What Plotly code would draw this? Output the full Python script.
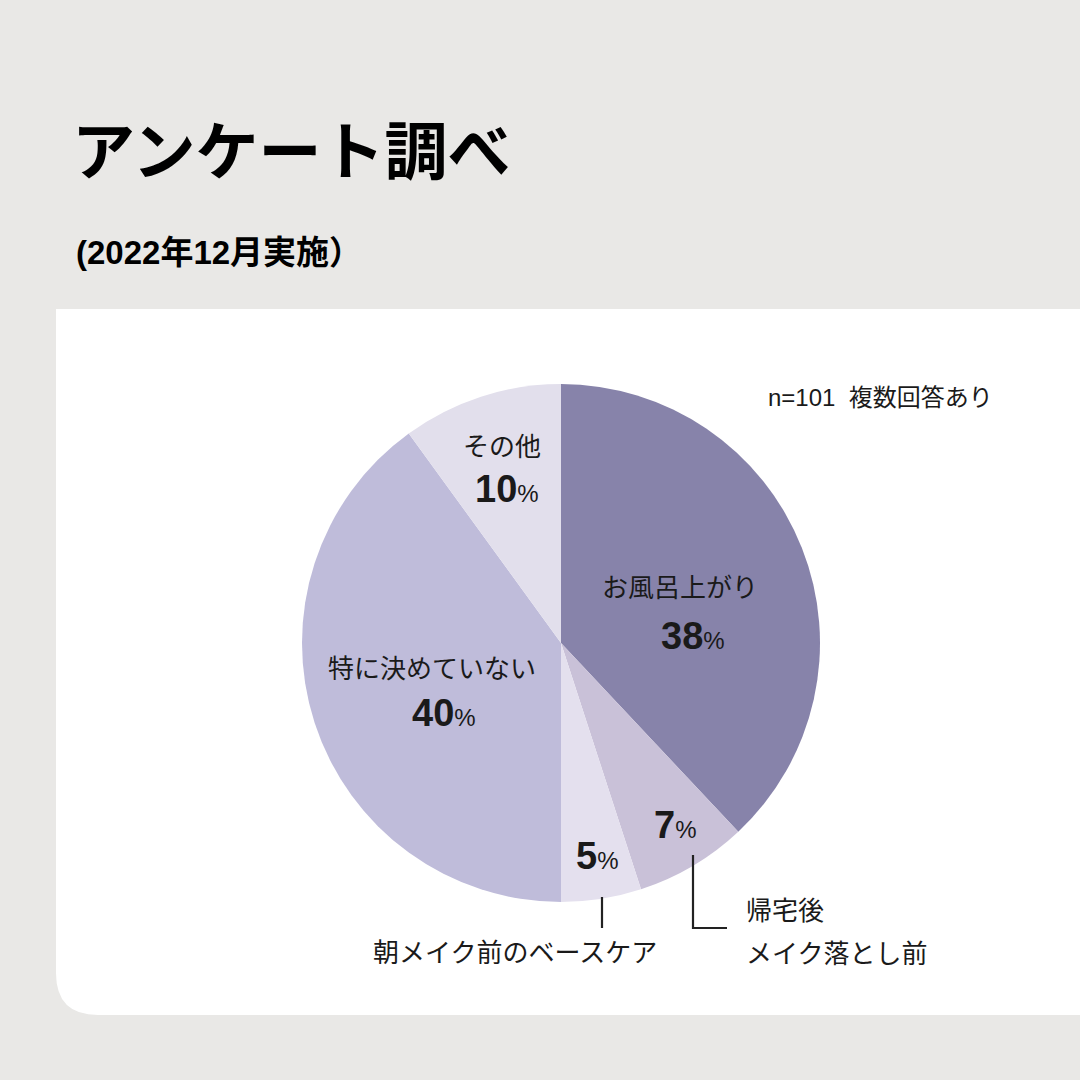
import plotly.graph_objects as go

# ---- data ----
categories = ["お風呂上がり", "帰宅後メイク落とし前", "朝メイク前のベースケア", "特に決めていない", "その他"]
values = [38, 7, 5, 40, 10]
colors = ["#8783aa", "#c9c1d8", "#e4e0ee", "#bfbcda", "#e2dfec"]
title_text = "アンケート調べ"
subtitle_text = "(2022年12月実施）"
note_text = "n=101  複数回答あり"

W = H = 1080
def px(x):
    return x / W
def py(y):
    return 1 - y / H

JP = "Noto Sans CJK JP"
NUM = "Liberation Sans, Noto Sans CJK JP"
INK = "#1a1a1a"
BG = "#e9e8e6"

fig = go.Figure()
fig.add_trace(go.Pie(
    labels=categories, values=values, sort=False, direction="clockwise",
    rotation=0, marker=dict(colors=colors, line=dict(width=0)),
    textinfo="none", hoverinfo="label+value", showlegend=False,
    domain=dict(x=[px(561 - 259), px(561 + 259)], y=[py(643 + 259), py(643 - 259)]),
))

# white card with rounded bottom-left corner
x0, x1, yt, yb, r = 56, 1090, 309, 1015, 42
path = (f"M {px(x0)},{py(yt)} L {px(x1)},{py(yt)} L {px(x1)},{py(yb)} "
        f"L {px(x0 + r)},{py(yb)} Q {px(x0)},{py(yb)} {px(x0)},{py(yb - r)} Z")
shapes = [dict(type="path", path=path, xref="paper", yref="paper",
               fillcolor="white", line=dict(width=0), layer="below")]
# leader lines
lc = dict(color="#222222", width=2.2)
shapes.append(dict(type="line", xref="paper", yref="paper",
                   x0=px(602), x1=px(602), y0=py(897), y1=py(928), line=lc))
shapes.append(dict(type="path", xref="paper", yref="paper",
                   path=f"M {px(693)},{py(855)} L {px(693)},{py(928)} L {px(727)},{py(928)}",
                   line=lc))

ann = []
def add(text, x, y, size, family=JP, xanchor="center", bold=False, color=INK):
    ann.append(dict(text=f"<b>{text}</b>" if bold else text, x=px(x), y=py(y),
                    xref="paper", yref="paper", showarrow=False,
                    xanchor=xanchor, yanchor="middle",
                    font=dict(family=family, size=size, color=color)))

def pct(v):
    return f"<b>{v}</b><span style='font-size:24px'>%</span>"

add(title_text, 70, 146, 63, bold=True, xanchor="left", color="#000000")
add(subtitle_text, 74, 252, 33, family=NUM, bold=True, xanchor="left", color="#000000")
add(note_text, 766, 397, 24, family=NUM, xanchor="left")

add("その他", 502, 444, 26)
add(pct(values[4]), 507, 489, 38, family=NUM)
add("お風呂上がり", 680, 585, 26)
add(pct(values[0]), 693, 636, 38, family=NUM)
add("特に決めていない", 432, 666, 26)
add(pct(values[3]), 444, 713, 38, family=NUM)
add(pct(values[1]), 675, 825, 38, family=NUM)
add(pct(values[2]), 597, 856, 38, family=NUM)
add("帰宅後", 744, 908, 26, xanchor="left")
add("メイク落とし前", 744, 951, 26, xanchor="left")
add("朝メイク前のベースケア", 515, 950, 26)

fig.update_layout(
    width=W, height=H, margin=dict(l=0, r=0, t=0, b=0),
    paper_bgcolor=BG, plot_bgcolor=BG,
    shapes=shapes, annotations=ann,
)
fig.write_html(
    "out.html",
    config={"displayModeBar": False},
    post_script=f"document.body.style.margin='0';document.body.style.background='{BG}';",
)
